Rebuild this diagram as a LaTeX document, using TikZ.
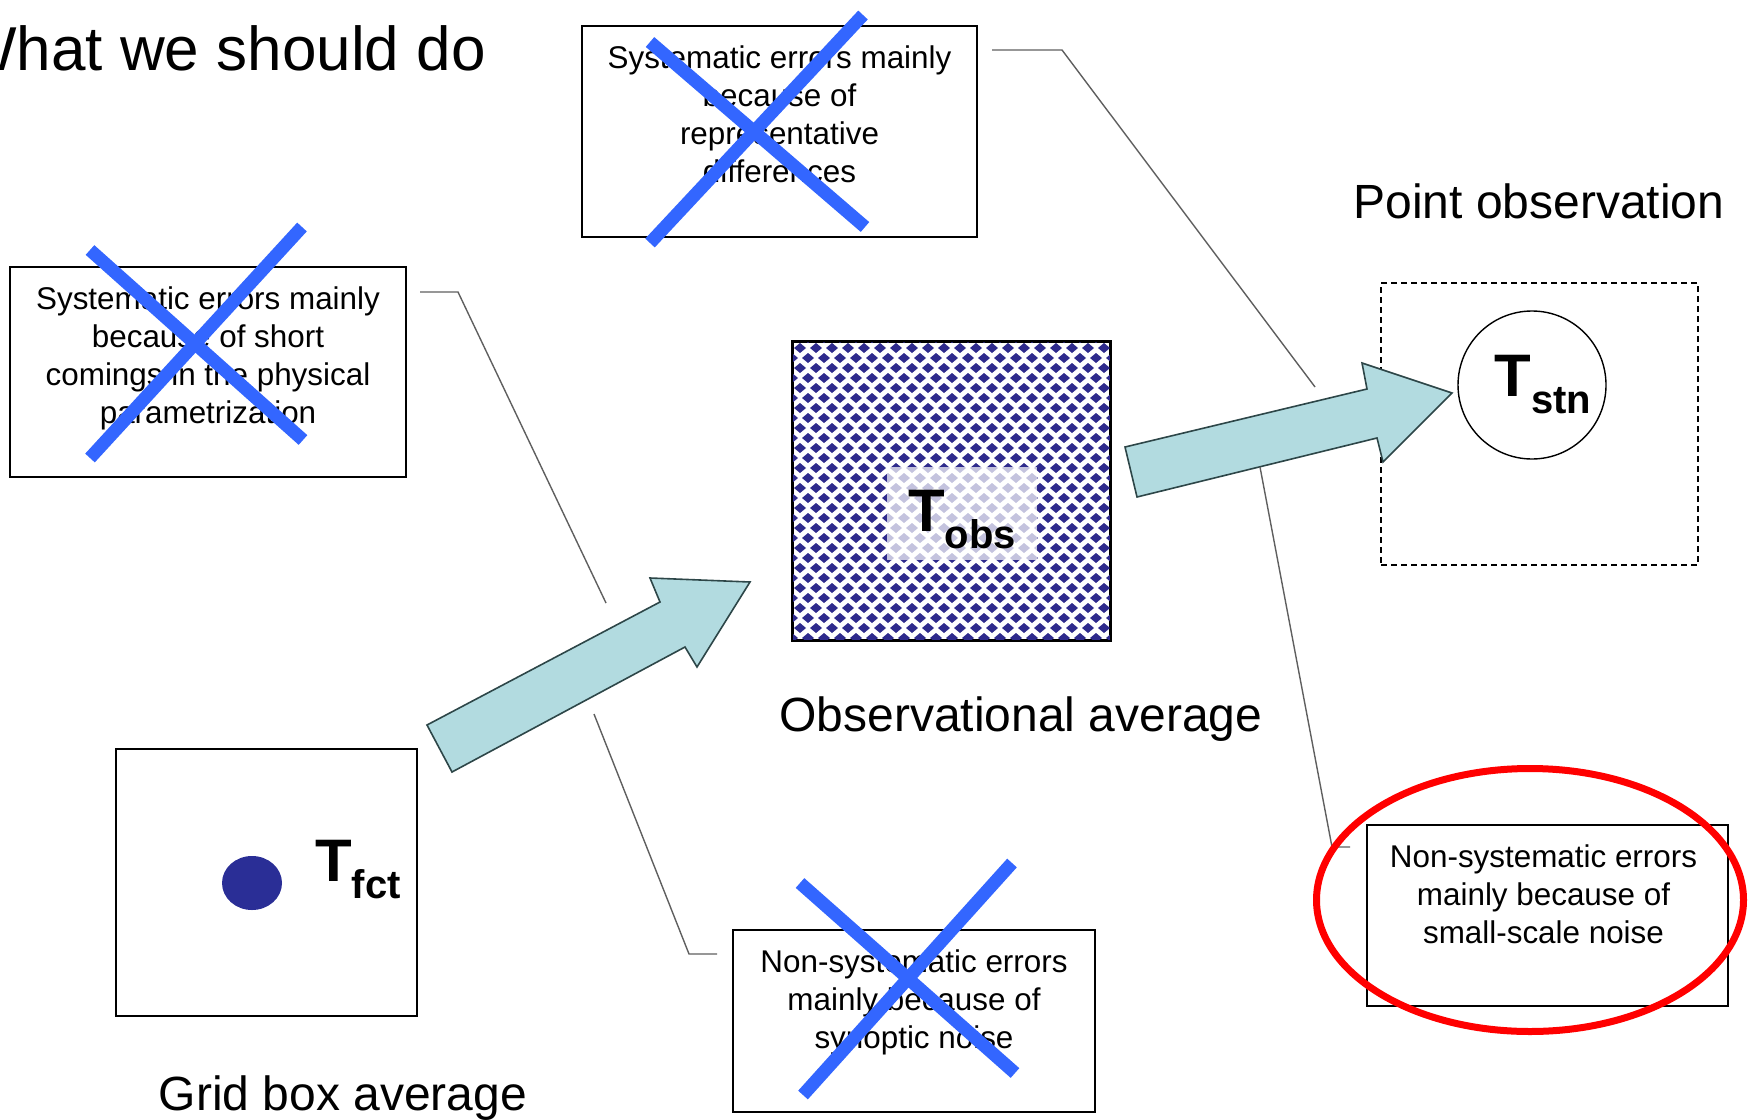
\documentclass[tikz,border=0pt]{standalone}
\usepackage{fontspec}
\setmainfont{Liberation Sans}
\usetikzlibrary{positioning}

\definecolor{arrowfill}{RGB}{178,219,224}
\definecolor{arrowline}{RGB}{45,70,72}
\definecolor{crossblue}{RGB}{51,102,255}
\definecolor{checknavy}{RGB}{46,42,140}
\definecolor{dotnavy}{RGB}{42,46,150}
\definecolor{calloutgray}{RGB}{95,95,95}

\newcommand{\tval}[1]{{\fontsize{30}{30}\selectfont\bfseries T}\raisebox{-8.5pt}{\fontsize{20}{20}\selectfont\bfseries #1}}

\tikzset{
  errbox/.style={draw, line width=0.9pt, inner sep=0pt},
  errtext/.style={align=center, inner sep=0pt, anchor=north, font=\fontsize{15.7}{19}\selectfont},
  caption/.style={inner sep=0pt, anchor=base, font=\fontsize{24}{28}\selectfont},
  bigarrow/.style={fill=arrowfill, draw=arrowline, line width=0.8pt, line join=miter},
  callout/.style={draw=calloutgray, line width=0.7pt},
  crossout/.style={crossblue, line width=6.5pt},
}

\begin{document}
\begin{tikzpicture}[x=0.5pt,y=0.5pt,yscale=-1,xscale=1]
\useasboundingbox (0,0) rectangle (1750,1119);

% Text Node
\node[inner sep=0pt, anchor=base east, font=\fontsize{31}{35}\selectfont] (title) at (486,70) {What we should do};

%Shape: Rectangle (grid box)
\node[errbox, minimum width=150.5pt, minimum height=133.5pt] (gridbox) at (266.5,882.5) {};
\fill[dotnavy] (252,883) ellipse [x radius=15pt, y radius=13.5pt];
\node[inner sep=0pt] (tfct) at (358,870) {\tval{fct}};
\node[caption] (gridcap) at (343,1110) {Grid box average};

%Shape: Rectangle (observational average)
\node[draw, line width=0.9pt, minimum width=158.5pt, minimum height=149pt, inner sep=0pt] (obsbox) at (951.5,491) {};
\begin{scope}
\clip (793,342) rectangle (1110,640);
\foreach \i in {0,...,20}{
  \foreach \j in {-1,...,15}{
    \fill[checknavy] (800+16*\i,348+20*\j) +(-6,0) -- +(0,-5) -- +(6,0) -- +(0,5) -- cycle;
    \fill[checknavy] (792+16*\i,358+20*\j) +(-6,0) -- +(0,-5) -- +(6,0) -- +(0,5) -- cycle;
  }
}
\end{scope}
\fill[white, opacity=0.72] (887,467) rectangle (1037,560);
\draw[line width=0.9pt] (obsbox.north west) rectangle (obsbox.south east);
\node[inner sep=0pt] (tobs) at (962,520) {\tval{obs}};
\node[caption] (obscap) at (1021,731) {Observational average};

%Shape: Rectangle (point observation)
\node[draw, dash pattern=on 3pt off 2pt, line width=0.8pt, minimum width=158.5pt, minimum height=141pt] (stnbox) at (1539.5,424) {};
\node[draw, circle, line width=0.7pt, minimum size=74pt, inner sep=0pt] (stn) at (1532,385) {\hspace{11pt}\tval{stn}};
\node[caption] (stncap) at (1539,218) {Point observation};

%Shape: Right Arrow
\draw[bigarrow] (452,772) -- (427,725) -- (660,602) -- (650,578) -- (750,582) -- (697,667) -- (685,647) -- cycle;
%Shape: Right Arrow
\draw[bigarrow] (1137,497) -- (1125,447) -- (1367,389) -- (1362,363) -- (1452,393) -- (1383,462) -- (1377,438) -- cycle;

%Shape: Rectangle (error boxes)
\node[errbox, minimum width=197.5pt, minimum height=105.5pt] (repbox) at (779.5,131.5) {};
\node[errtext] (reptext) at ([yshift=10pt]repbox.north) {Systematic errors mainly\\because of\\representative\\differences};
\node[errbox, minimum width=198pt, minimum height=105pt] (parbox) at (208,372) {};
\node[errtext] (partext) at ([yshift=10pt]parbox.north) {Systematic errors mainly\\because of short\\comings in the physical\\parametrization};
\node[errbox, minimum width=181pt, minimum height=91pt] (synbox) at (914,1021) {};
\node[errtext] (syntext) at ([yshift=10pt]synbox.north) {Non-systematic errors\\mainly because of\\synoptic noise};
\node[errbox, minimum width=180.5pt, minimum height=90.5pt] (noisebox) at (1547.5,915.5) {};
\node[errtext] (noisetext) at ([yshift=10pt,xshift=-2pt]noisebox.north) {Non-systematic errors\\mainly because of\\small-scale noise};

%Straight Lines (callouts)
\coordinate (repa) at (992,50);
\coordinate (repb) at (1062,50);
\coordinate (repc) at (1315,387);
\draw[callout] (repa) -- (repb) -- (repc);
\coordinate (para) at (420,292);
\coordinate (parb) at (458,292);
\coordinate (parc) at (606,603);
\draw[callout] (para) -- (parb) -- (parc);
\coordinate (syna) at (594,714);
\coordinate (synb) at (689,954);
\coordinate (sync) at (717,954);
\draw[callout] (syna) -- (synb) -- (sync);
\coordinate (noisea) at (1260,467);
\coordinate (noiseb) at (1332,847);
\coordinate (noisec) at (1350,847);
\draw[callout] (noisea) -- (noiseb) -- (noisec);

%Crosses
\draw[crossout] (650,42) -- (865,227);
\draw[crossout] (650,243) -- (863,15);
\draw[crossout] (90,250) -- (303,440);
\draw[crossout] (90,458) -- (302,227);
\draw[crossout] (800,883) -- (1015,1073);
\draw[crossout] (803,1095) -- (1012,863);

%Shape: Ellipse
\draw[red, line width=3.5pt] (1530,900) ellipse [x radius=106.75pt, y radius=65.75pt];

\end{tikzpicture}
\end{document}
